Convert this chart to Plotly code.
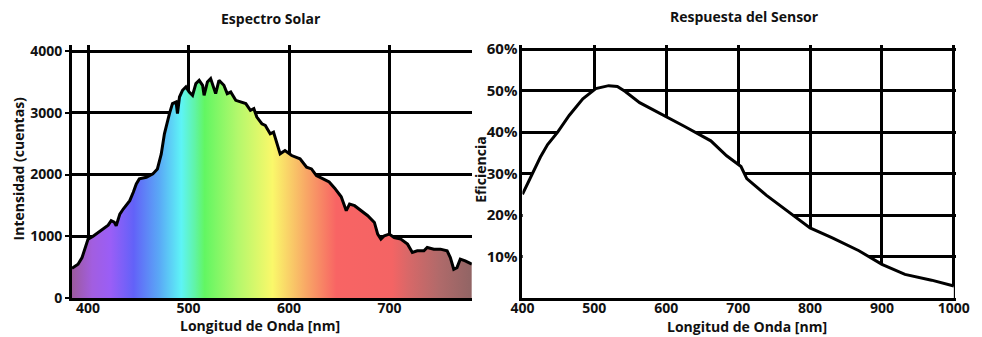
import plotly.graph_objects as go
from plotly.subplots import make_subplots

# ---------------- data ----------------
solar_nm = [384, 386, 390, 394, 397, 400, 405, 409, 415, 420, 423, 426, 428, 431.6, 435,
            441.5, 445, 448, 451, 458, 464.5, 469, 472.8, 476, 481, 484, 487.6, 489, 491,
            494, 497.4, 500.7, 504, 507.3, 510.6, 514, 515.5, 518.8, 522, 525.4, 527, 530.3,
            535.2, 538.5, 542, 547, 552, 557, 561.6, 565, 568, 573, 576.4, 581.3, 584.6, 588,
            591.2, 596, 602.7, 611, 617.5, 622.4, 627.3, 634, 640, 645.5, 652, 657, 660.3,
            665.3, 671.8, 678.4, 685, 688.3, 691.5, 694.9, 699.8, 704.7, 711.3, 718, 722.8,
            727.7, 734.3, 737.6, 744.2, 750.7, 757.4, 760.6, 764, 767.2, 770.5, 775.4, 782]
solar_counts = [480, 500, 548, 656, 792, 954, 1000, 1046, 1117, 1180, 1252, 1230, 1171, 1360, 1442,
                1577, 1713, 1848, 1930, 1957, 2011, 2092, 2330, 2661, 2987, 3150, 3176, 2987, 3257,
                3366, 3420, 3338, 3285, 3475, 3528, 3447, 3285, 3501, 3556, 3393, 3312, 3528,
                3447, 3312, 3338, 3203, 3176, 3150, 3041, 3068, 2932, 2824, 2797, 2662, 2688, 2525,
                2336, 2390, 2309, 2255, 2119, 2092, 1984, 1930, 1880, 1780, 1640, 1415, 1523,
                1496, 1415, 1333, 1225, 1035, 954, 1008, 1035, 980, 954, 873, 737,
                764, 764, 818, 792, 792, 764, 656, 466, 493, 629, 602, 548]

sensor_nm = [400, 410, 416, 425, 435, 449, 465, 484, 502, 520, 532, 543, 563, 602, 625, 662,
             684, 704, 712, 739, 776, 800, 831, 868, 900, 932, 969, 1000]
sensor_eff = [25, 28.5, 31, 34, 37, 40, 44, 48, 50.5, 51.2, 51, 49.8, 47.1, 43.6, 41.4, 37.9,
              34.3, 31.7, 28.8, 24.8, 20, 16.9, 14.5, 11.4, 8.1, 5.7, 4.3, 2.9]

# rainbow stops (wavelength nm, colour)
rainbow_nm = [384, 404, 422, 445, 470, 492, 505, 515, 548, 582, 615, 645, 700, 716, 747, 782]
rainbow_col = ["#9c5a9e", "#a25ee0", "#9a5ef6", "#6262f8", "#5aa8f6", "#5ef4f6", "#60f4a8",
               "#62f662", "#b4f86c", "#faf86a", "#f8a866", "#f86464", "#f46464", "#d86868",
               "#b06a6a", "#8e6464"]

left_xticks = [400, 500, 600, 700]
left_yticks = [0, 1000, 2000, 3000, 4000]
right_xticks = [400, 500, 600, 700, 800, 900, 1000]
right_yticks = [10, 20, 30, 40, 50, 60]
right_ylabels = ["10%", "20%", "30%", "40%", "50%", "60%"]

# ---------------- layout geometry (page pixels; body margin removed in post_script) ----------------
W, H = 982, 337
PL, PR, PT, PB = 72, 963, 45, 298          # plot area edges in page pixels
ML, MR, MT, MB = PL, W - PR, PT, H - PB
PW, PH = W - ML - MR, H - MT - MB

fig = make_subplots(rows=1, cols=2)

lo, hi = rainbow_nm[0], rainbow_nm[-1]
cscale = [[(n - lo) / (hi - lo), c] for n, c in zip(rainbow_nm, rainbow_col)]

fig.add_trace(go.Scatter(
    x=solar_nm, y=solar_counts, mode="lines", fill="tozeroy",
    line=dict(color="black", width=3),
    fillgradient=dict(type="horizontal", colorscale=cscale, start=lo, stop=hi),
    hoverinfo="skip", showlegend=False), row=1, col=1)

fig.add_trace(go.Scatter(
    x=sensor_nm, y=sensor_eff, mode="lines", fill="tozeroy", fillcolor="white",
    line=dict(color="black", width=3),
    hoverinfo="skip", showlegend=False), row=1, col=2)

FONT = "Open Sans, Arial, sans-serif"
xtickfont = dict(family=FONT, size=14, color="#111", weight="bold")
ytickfont = dict(family=FONT, size=14, color="#111", weight="bold")

common = dict(showgrid=True, gridcolor="black", gridwidth=3, showline=True, linecolor="black",
              linewidth=3, zeroline=False, ticklabeloverflow="allow")

fig.update_xaxes(domain=[0, (475 - PL) / PW], range=[384, 782], tickvals=left_xticks,
                 ticks="", tickfont=xtickfont, ticklabelstandoff=-5, **common, row=1, col=1)
fig.update_yaxes(range=[0, 4100], tickvals=left_yticks, ticks="outside", ticklen=4,
                 tickwidth=2, tickcolor="black", tickfont=ytickfont, **common, row=1, col=1)
fig.update_xaxes(domain=[(526 - PL) / PW, 1], range=[400, 1003], tickvals=right_xticks,
                 ticks="", tickfont=xtickfont, ticklabelstandoff=-5, **common, row=1, col=2)
fig.update_yaxes(range=[0, 61], tickvals=right_yticks, ticktext=right_ylabels, ticks="",
                 tickfont=dict(ytickfont, size=15), ticklabelstandoff=-1, **common, row=1, col=2)


def px(x):
    return (x - PL) / PW


def py(y):
    return (PB - y) / PH


def note(text, x, y, size, angle=0):
    fig.add_annotation(text=text, x=px(x), y=py(y), xref="paper", yref="paper",
                       showarrow=False, textangle=angle, xanchor="center", yanchor="middle",
                       font=dict(family=FONT, size=size, color="#111", weight="bold"))


note("Espectro Solar", 273, 19, 14)
note("Respuesta del Sensor", 750, 17, 14)
note("Longitud de Onda [nm]", 261, 325, 14)
note("Longitud de Onda [nm]", 752, 326, 14)
note("Intensidad (cuentas)", 18, 168, 14, -90)
note("Eficiencia", 483, 170, 14, -90)

fig.update_layout(width=W, height=H, margin=dict(l=ML, r=MR, t=MT, b=MB),
                  paper_bgcolor="white", plot_bgcolor="white", showlegend=False)

fig.write_html("out.html", config={"displayModeBar": False, "staticPlot": True},
               post_script="document.body.style.margin='0';document.body.style.overflow='hidden';")
